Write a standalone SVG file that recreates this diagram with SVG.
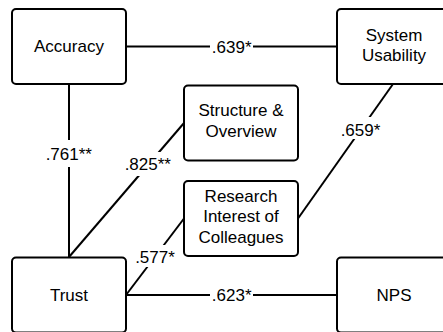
<svg xmlns="http://www.w3.org/2000/svg" width="443" height="332" viewBox="0 0 443 332">
<style>
.box{fill:#fff;stroke:#000;stroke-width:2}
.ln{stroke:#000;stroke-width:2;fill:none}
text{font-family:"Liberation Sans",Arial,sans-serif;font-size:17px;fill:#000;text-anchor:middle}
.bg{fill:#fff}
</style>
<rect width="443" height="332" fill="#fff"/>
<g id="connectors">
<line class="ln" x1="126" y1="46.5" x2="337" y2="46.5"/>
<line class="ln" x1="126" y1="295" x2="337" y2="295"/>
<line class="ln" x1="69" y1="84" x2="69" y2="257"/>
<line class="ln" x1="69" y1="257" x2="184" y2="123"/>
<line class="ln" x1="126" y1="295" x2="184" y2="218.5"/>
<line class="ln" x1="393" y1="84" x2="298" y2="218.5"/>
<rect class="bg" x="210" y="37" width="43" height="20"/>
<text x="231.7" y="53">.639*</text>
<rect class="bg" x="210" y="285" width="43" height="20"/>
<text x="231.7" y="301">.623*</text>
<rect class="bg" x="45" y="140" width="48" height="27"/>
<text x="68.8" y="159.5">.761**</text>
<rect class="bg" x="124" y="152" width="48" height="24"/>
<text x="147.8" y="170">.825**</text>
<rect class="bg" x="340" y="117" width="42" height="22"/>
<text x="360.5" y="135.5">.659*</text>
<rect class="bg" x="134" y="245" width="42" height="22"/>
<text x="155" y="263">.577*</text>
</g>
<g id="accuracy">
<rect class="box" x="12" y="9" width="114" height="75" rx="4"/>
<text x="69" y="52">Accuracy</text>
</g>
<g id="system-usability">
<rect class="box" x="337" y="9" width="114" height="75" rx="4"/>
<text x="394" y="40.5">System</text>
<text x="394" y="61">Usability</text>
</g>
<g id="structure-overview">
<rect class="box" x="184" y="85.5" width="114" height="75" rx="4"/>
<text x="241" y="115.5">Structure &amp;</text>
<text x="241" y="137">Overview</text>
</g>
<g id="research-interest">
<rect class="box" x="184" y="181" width="114" height="75" rx="4"/>
<text x="241" y="201.5">Research</text>
<text x="241" y="222">Interest of</text>
<text x="241" y="242.5">Colleagues</text>
</g>
<g id="trust">
<rect class="box" x="12" y="257.5" width="114" height="75" rx="4"/>
<text x="69" y="300.5">Trust</text>
</g>
<g id="nps">
<rect class="box" x="337" y="257.5" width="114" height="75" rx="4"/>
<text x="394" y="300.5">NPS</text>
</g>
</svg>
